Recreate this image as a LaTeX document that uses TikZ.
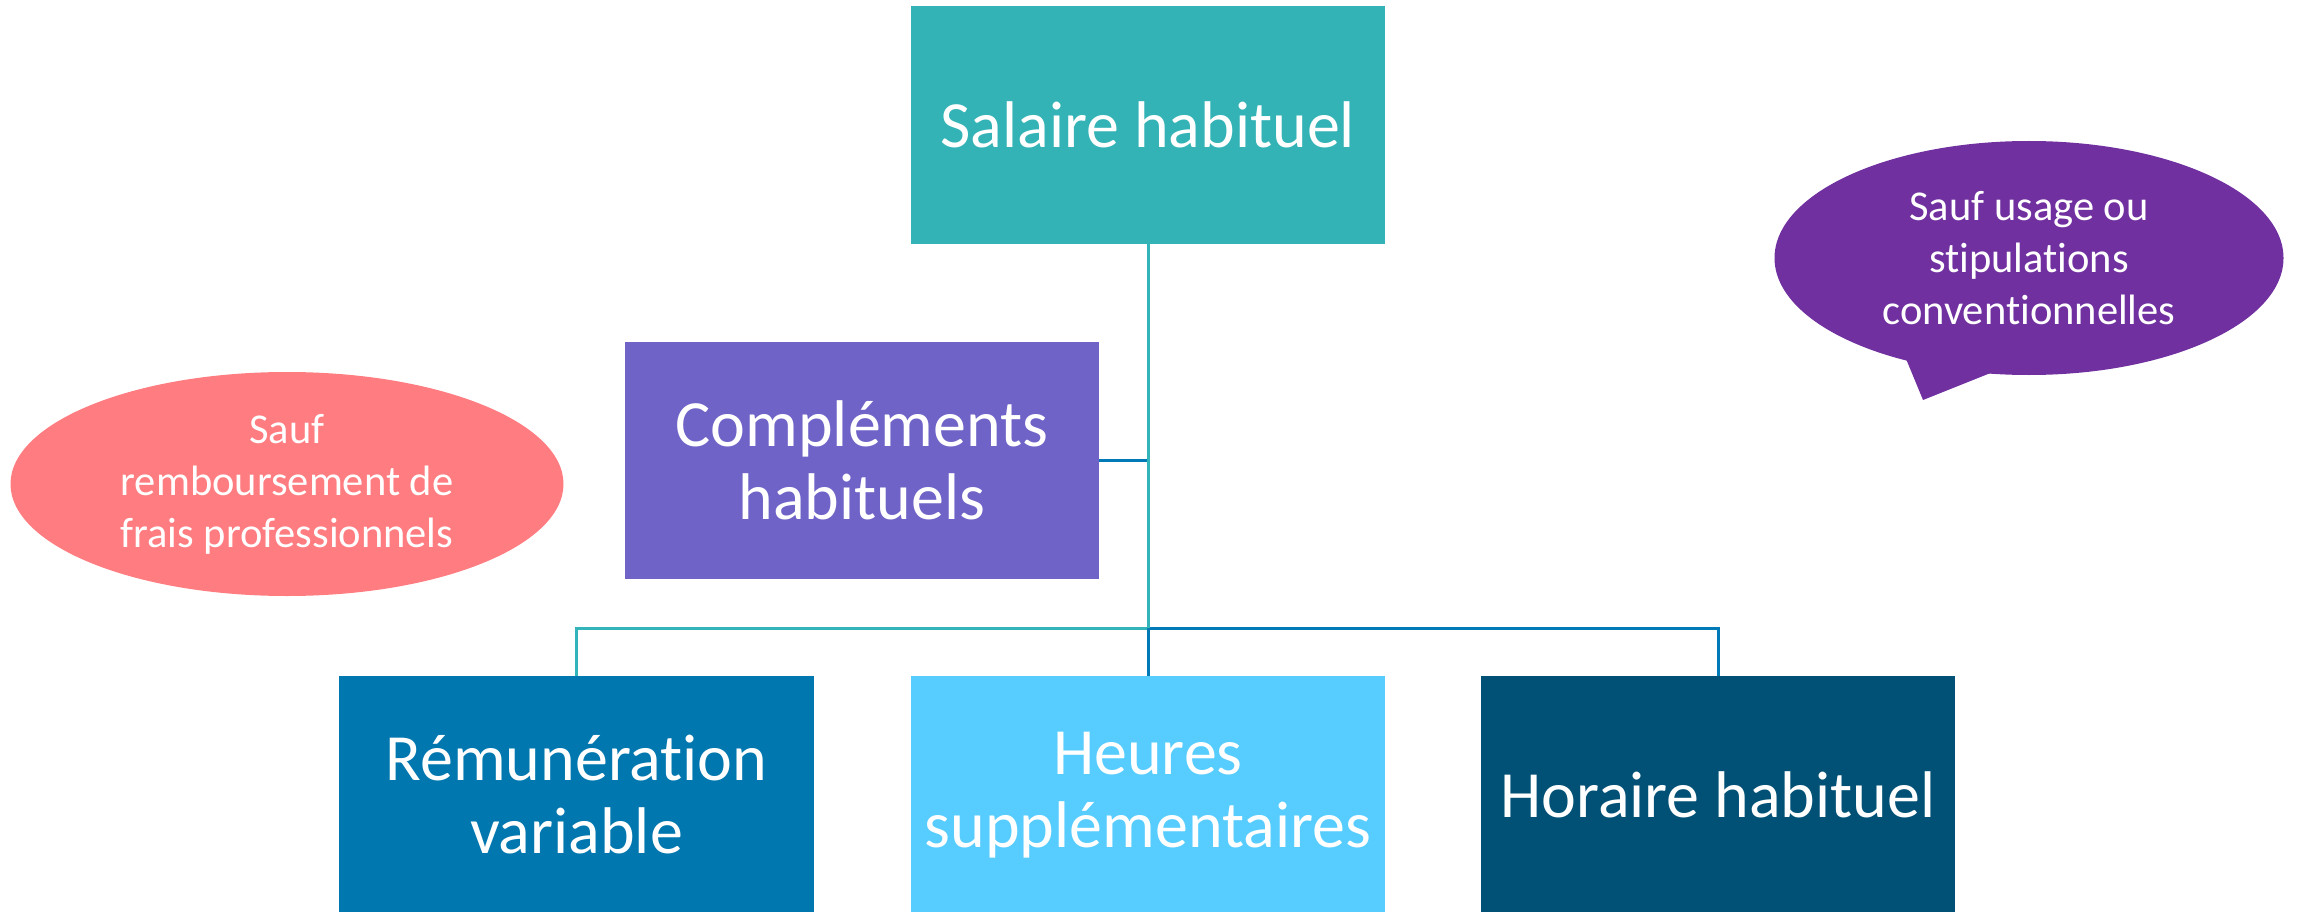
\documentclass[tikz,border=0pt]{standalone}
\usepackage{fontspec}
\setmainfont{Carlito}[Ligatures=NoCommon]
\usetikzlibrary{shapes.geometric}
\definecolor{cSal}{RGB}{51,179,182}
\definecolor{cComp}{RGB}{111,99,200}
\definecolor{cRem}{RGB}{0,119,174}
\definecolor{cHeu}{RGB}{87,204,255}
\definecolor{cHor}{RGB}{0,81,117}
\definecolor{cPink}{RGB}{255,124,128}
\definecolor{cPurp}{RGB}{112,48,160}
\definecolor{cLineT}{RGB}{51,180,186}
\definecolor{cLineB}{RGB}{0,122,182}
\tikzset{
  boxnode/.style={rectangle, inner sep=0pt, text=white, align=center,
    font=\fontsize{66}{73}\selectfont},
  notenode/.style={ellipse, inner sep=0pt, text=white, align=center,
    font=\fontsize{42.5}{52}\selectfont},
  linkT/.style={draw=cLineT, line width=3pt},
  linkB/.style={draw=cLineB, line width=3pt},
}
\begin{document}
\begin{tikzpicture}[x=1pt,y=-1pt]
\useasboundingbox (0,0) rectangle (2300,912);
\begin{scope}
\clip (0,0) rectangle (2300,912);
\coordinate (bus) at (0,628);
\node[boxnode, fill=cSal, minimum width=474pt, minimum height=238pt] (sal) at (1148,125) {Salaire habituel};
\node[boxnode, fill=cComp, minimum width=474pt, minimum height=237pt] (comp) at (862,460.5) {Compléments\\habituels};
\node[boxnode, fill=cRem, minimum width=475pt, minimum height=238pt] (rem) at (576.5,795) {Rémunération\\variable};
\node[boxnode, fill=cHeu, minimum width=474pt, minimum height=238pt] (heu) at (1148,795) {Heures\\supplémentaires};
\node[boxnode, fill=cHor, minimum width=474pt, minimum height=238pt] (hor) at (1718,795) {Horaire habituel};
\draw[linkB, line width=2.5pt] (comp.east) -- (comp.east -| sal.south);
\draw[linkB] (sal.south |- bus) -| (hor.north);
\draw[linkT] (sal.south) -- (sal.south |- bus) -| (rem.north);
\draw[linkB] (sal.south |- bus) -- (heu.north);
\draw[linkT] (sal.south) -- (sal.south |- comp.east);
% notes
\node[notenode, fill=cPink, minimum width=553pt, minimum height=224pt] (frais) at (287,484) {Sauf\\remboursement de\\frais professionnels};
\coordinate (t1) at (1904,354);
\coordinate (tip) at (1923,400);
\coordinate (t2) at (1998,370);
\fill[cPurp] (t1) -- (tip) -- (t2) -- cycle;
\node[notenode, fill=cPurp, minimum width=509pt, minimum height=234pt] (usage) at (2029,258) {Sauf usage ou\\stipulations\\conventionnelles};
\end{scope}
\end{tikzpicture}
\end{document}
